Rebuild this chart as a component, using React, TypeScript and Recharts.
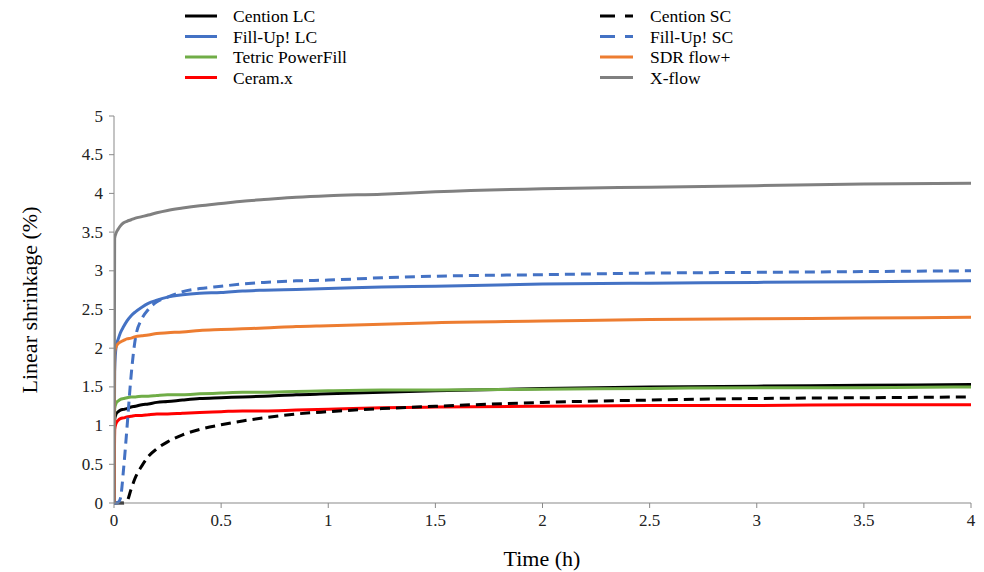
import React from "react";
import { LineChart, Line, XAxis, YAxis, Label } from "recharts";

const time = [0, 0.003, 0.01, 0.02, 0.03, 0.045, 0.06, 0.08, 0.1, 0.13, 0.16, 0.2, 0.25, 0.32, 0.4, 0.5, 0.6, 0.7, 0.85, 1, 1.25, 1.5, 2, 2.5, 3, 3.5, 4];

const centionLC = [0, 1.08, 1.15, 1.18, 1.2, 1.21, 1.22, 1.24, 1.25, 1.27, 1.28, 1.3, 1.31, 1.33, 1.35, 1.36, 1.37, 1.38, 1.4, 1.41, 1.43, 1.45, 1.48, 1.5, 1.51, 1.52, 1.53];
const fillUpLC = [0, 1.7, 2.02, 2.12, 2.2, 2.28, 2.35, 2.42, 2.47, 2.53, 2.58, 2.62, 2.66, 2.69, 2.71, 2.72, 2.74, 2.75, 2.76, 2.77, 2.79, 2.8, 2.83, 2.84, 2.85, 2.86, 2.87];
const tetric = [0, 1.22, 1.29, 1.32, 1.34, 1.35, 1.36, 1.37, 1.37, 1.38, 1.38, 1.39, 1.4, 1.4, 1.41, 1.42, 1.43, 1.43, 1.44, 1.45, 1.46, 1.46, 1.47, 1.48, 1.49, 1.49, 1.5];
const ceramx = [0, 0.95, 1.03, 1.07, 1.09, 1.1, 1.11, 1.12, 1.13, 1.13, 1.14, 1.15, 1.15, 1.16, 1.17, 1.18, 1.19, 1.19, 1.2, 1.21, 1.23, 1.24, 1.25, 1.26, 1.26, 1.27, 1.27];
const centionSC = [0, 0, 0, 0, 0, 0, 0.02, 0.18, 0.33, 0.48, 0.6, 0.7, 0.79, 0.88, 0.95, 1.01, 1.06, 1.1, 1.15, 1.18, 1.22, 1.25, 1.3, 1.33, 1.35, 1.36, 1.37];
const fillUpSC = [0, 0, 0, 0.01, 0.06, 0.45, 0.95, 1.65, 2.13, 2.38, 2.5, 2.6, 2.66, 2.73, 2.77, 2.8, 2.83, 2.85, 2.87, 2.88, 2.91, 2.93, 2.95, 2.97, 2.98, 2.99, 3.0];
const sdrFlow = [0, 1.95, 2.02, 2.06, 2.08, 2.1, 2.12, 2.13, 2.15, 2.16, 2.17, 2.19, 2.2, 2.21, 2.23, 2.24, 2.25, 2.26, 2.28, 2.29, 2.31, 2.33, 2.35, 2.37, 2.38, 2.39, 2.4];
const xFlow = [0, 3.42, 3.49, 3.54, 3.58, 3.62, 3.64, 3.66, 3.68, 3.7, 3.72, 3.75, 3.78, 3.81, 3.84, 3.87, 3.9, 3.92, 3.95, 3.97, 3.99, 4.02, 4.06, 4.08, 4.1, 4.12, 4.13];

const xTicks = [0, 0.5, 1, 1.5, 2, 2.5, 3, 3.5, 4];
const yTicks = [0, 0.5, 1, 1.5, 2, 2.5, 3, 3.5, 4, 4.5, 5];

const series = [
  { key: "centionLC", name: "Cention LC", color: "#000000", dashed: false, values: centionLC },
  { key: "fillUpLC", name: "Fill-Up! LC", color: "#4472C4", dashed: false, values: fillUpLC },
  { key: "tetric", name: "Tetric PowerFill", color: "#70AD47", dashed: false, values: tetric },
  { key: "ceramx", name: "Ceram.x", color: "#FF0000", dashed: false, values: ceramx },
  { key: "centionSC", name: "Cention SC", color: "#000000", dashed: true, values: centionSC },
  { key: "fillUpSC", name: "Fill-Up! SC", color: "#4472C4", dashed: true, values: fillUpSC },
  { key: "sdrFlow", name: "SDR flow+", color: "#ED7D31", dashed: false, values: sdrFlow },
  { key: "xFlow", name: "X-flow", color: "#808080", dashed: false, values: xFlow },
];

const data = time.map((t, i) => {
  const row: Record<string, number> = { t };
  series.forEach((s) => {
    row[s.key] = s.values[i];
  });
  return row;
});

const FONT = "'Liberation Serif', 'Times New Roman', serif";

const XTick = (props: any) => (
  <text x={props.x} y={props.y} dy="0.71em" textAnchor="middle" fontFamily={FONT} fontSize={17} fill="#222">
    {String(props.payload.value)}
  </text>
);

const YTick = (props: any) => (
  <text x={props.x} y={props.y} dominantBaseline="central" textAnchor="end" fontFamily={FONT} fontSize={17} fill="#222">
    {String(props.payload.value)}
  </text>
);

const LegendOverlay = () => (
  <svg width={984} height={100} style={{ position: "absolute", left: 0, top: 0, display: "block" }}>
    {series.map((s, i) => {
      const col = i < 4 ? 0 : 1;
      const row = i % 4;
      const y = 16 + row * 20.5;
      const x1 = col === 0 ? 185 : 600;
      const x2 = col === 0 ? 217 : 633;
      const tx = col === 0 ? 233 : 650;
      return (
        <g key={s.key}>
          <line x1={x1} x2={x2} y1={y} y2={y} stroke={s.color} strokeWidth={3} strokeDasharray={s.dashed ? "15 10" : undefined} />
          <text x={tx} y={y} dominantBaseline="central" fontFamily={FONT} fontSize={17.5} fill="#000">
            {s.name}
          </text>
        </g>
      );
    })}
  </svg>
);

export default function App() {
  return (
    <div style={{ position: "absolute", left: 0, top: 0, width: 984, height: 572, background: "#fff", fontFamily: FONT }}>
      <LineChart width={984} height={572} data={data} margin={{ top: 116, right: 13, bottom: 39, left: 14 }}>
        <XAxis
          dataKey="t"
          type="number"
          domain={[0, 4]}
          ticks={xTicks}
          height={30}
          stroke="#898989"
          tickSize={5}
          tickMargin={6}
          tick={<XTick />}
          interval={0}
          allowDataOverflow
        >
          <Label
            content={() => (
              <text x={542} y={558} textAnchor="middle" dominantBaseline="central" fontFamily={FONT} fontSize={22} fill="#000">
                Time (h)
              </text>
            )}
          />
        </XAxis>
        <YAxis
          type="number"
          domain={[0, 5]}
          ticks={yTicks}
          width={100}
          stroke="#898989"
          tickSize={5}
          tickMargin={6}
          tick={<YTick />}
          interval={0}
        >
          <Label
            content={() => (
              <text
                x={29}
                y={300}
                transform="rotate(-90 29 300)"
                textAnchor="middle"
                dominantBaseline="central"
                fontFamily={FONT}
                fontSize={22}
                fill="#000"
              >
                Linear shrinkage (%)
              </text>
            )}
          />
        </YAxis>
        {series.map((s) => (
          <Line
            key={s.key}
            dataKey={s.key}
            name={s.name}
            type="monotone"
            stroke={s.color}
            strokeWidth={3}
            strokeDasharray={s.dashed ? "10 6" : undefined}
            dot={false}
            activeDot={false}
            isAnimationActive={false}
          />
        ))}
      </LineChart>
      <LegendOverlay />
    </div>
  );
}
